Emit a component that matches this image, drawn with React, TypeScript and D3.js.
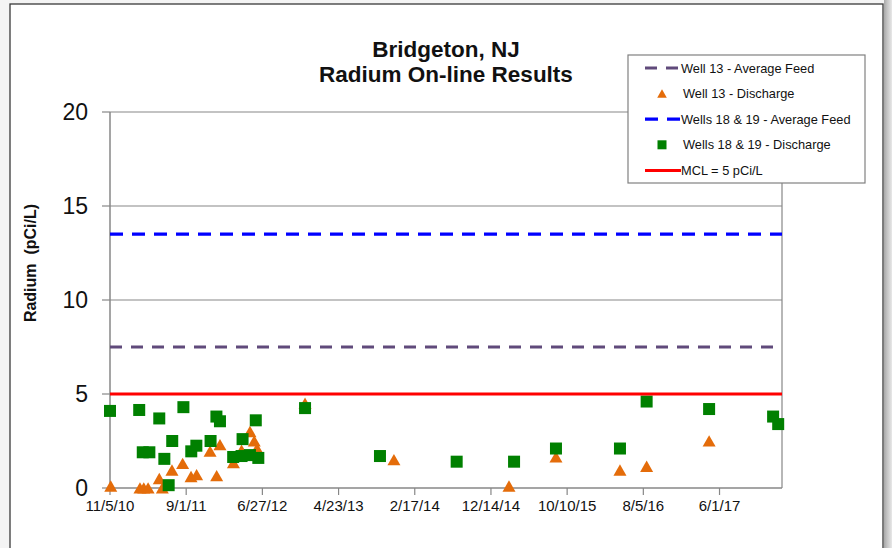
import React from "react";
import * as d3 from "d3";

const xTickLabels = ["11/5/10", "9/1/11", "6/27/12", "4/23/13", "2/17/14", "12/14/14", "10/10/15", "8/5/16", "6/1/17"];
const xDomain = ["11/5/10", "2/2/18"];
const yTicks = [0, 5, 10, 15, 20];

const well13Dates = ["11/8/10", "3/3/11", "3/18/11", "4/4/11", "5/18/11", "5/30/11", "7/7/11", "8/18/11", "9/20/11", "10/12/11", "12/4/11", "12/30/11", "1/12/12", "3/5/12", "4/6/12", "5/9/12", "5/26/12", "6/6/12", "12/12/12", "11/27/13", "2/23/15", "8/27/15", "5/5/16", "8/18/16", "4/21/17"];
const well13Values = [0.1, 0, 0, 0, 0.5, 0, 0.95, 1.3, 0.6, 0.7, 1.95, 0.65, 2.3, 1.35, 2.0, 3.0, 2.5, 2.1, 4.5, 1.5, 0.1, 1.65, 0.95, 1.15, 2.5];

const wells1819Dates = ["11/5/10", "2/28/11", "3/14/11", "4/9/11", "5/18/11", "6/7/11", "6/24/11", "7/8/11", "8/21/11", "9/21/11", "10/11/11", "12/6/11", "12/29/11", "1/12/12", "3/4/12", "4/6/12", "4/10/12", "5/9/12", "6/1/12", "6/11/12", "12/12/12", "10/3/13", "8/1/14", "3/15/15", "8/27/15", "5/5/16", "8/18/16", "4/21/17", "12/29/17", "1/18/18"];
const wells1819Values = [4.1, 4.15, 1.9, 1.9, 3.7, 1.55, 0.15, 2.5, 4.3, 1.95, 2.25, 2.5, 3.8, 3.55, 1.65, 1.7, 2.6, 1.75, 3.6, 1.6, 4.25, 1.7, 1.4, 1.4, 2.1, 2.1, 4.6, 4.2, 3.8, 3.4];

const well13AvgFeed = 7.5;
const wells1819AvgFeed = 13.5;
const mcl = 5;

const legendLabels = ["Well 13 - Average Feed", "Well 13 - Discharge", "Wells 18 & 19 - Average Feed", "Wells 18 & 19 - Discharge", "MCL = 5 pCi/L"];

const PURPLE = "#604A7B";
const ORANGE = "#E46C0A";
const BLUE = "#0000FF";
const GREEN = "#008000";
const RED = "#FF0000";
const GRID = "#878787";
const FONT = "'Liberation Sans', Arial, sans-serif";

export default function App() {
  const W = 892, H = 548;
  const left = 110, right = 782, top = 112, bottom = 488;
  const parse = d3.utcParse("%m/%d/%y");
  const x = d3.scaleUtc().domain(xDomain.map((d) => parse(d) as Date)).range([left, right]);
  const y = d3.scaleLinear().domain([0, 20]).range([bottom, top]);

  const tri = (cx: number, cy: number, s = 6.5) => `M${cx},${cy - s * 0.9}L${cx + s},${cy + s * 0.85}L${cx - s},${cy + s * 0.85}Z`;
  const sq = 12;

  const legX = 628, legY = 55, legW = 237, legH = 128;
  const legItemY = (i: number) => 68 + i * 25.6;

  return (
    <svg width={W} height={H} style={{ position: "absolute", left: 0, top: 0 }} fontFamily={FONT}>
      <defs>
        <linearGradient id="shadow" x1="0" x2="1" y1="0" y2="0">
          <stop offset="0" stopColor="#a8a8a8" />
          <stop offset="0.4" stopColor="#c4c4c4" />
          <stop offset="1" stopColor="#e8e8e8" />
        </linearGradient>
      </defs>
      <rect x={0} y={0} width={W} height={H} fill="#f4f4f4" />
      <rect x={884} y={0} width={8} height={H} fill="url(#shadow)" />
      <rect x={10} y={4} width={873} height={H} fill="#ffffff" stroke="#3a3a3a" strokeWidth={1.3} />

      {/* title */}
      <text x={446} y={57} textAnchor="middle" fontSize={22.5} fontWeight="bold" fill="#111">Bridgeton, NJ</text>
      <text x={446} y={82} textAnchor="middle" fontSize={22.5} fontWeight="bold" fill="#111">Radium On-line Results</text>

      {/* gridlines */}
      {yTicks.filter((t) => t > 0).map((t) => (
        <line key={"g" + t} x1={left} x2={right} y1={y(t)} y2={y(t)} stroke={GRID} strokeWidth={1} />
      ))}
      <line x1={right} x2={right} y1={top} y2={bottom} stroke={GRID} strokeWidth={1.2} />
      {/* axes */}
      <line x1={left} x2={left} y1={top} y2={bottom} stroke={GRID} strokeWidth={1.5} />
      <line x1={left} x2={right} y1={bottom} y2={bottom} stroke={GRID} strokeWidth={1.5} />
      {yTicks.map((t) => (
        <g key={"yt" + t}>
          <line x1={left - 8} x2={left} y1={y(t)} y2={y(t)} stroke={GRID} strokeWidth={1.2} />
          <text x={88} y={y(t) + 8} textAnchor="end" fontSize={23} fill="#111">{t}</text>
        </g>
      ))}
      {xTickLabels.map((l) => {
        const px = x(parse(l) as Date);
        return (
          <g key={"xt" + l}>
            <line x1={px} x2={px} y1={bottom} y2={bottom + 7} stroke={GRID} strokeWidth={1.2} />
            <text x={px} y={511} textAnchor="middle" fontSize={15} fill="#111">{l}</text>
          </g>
        );
      })}
      <text transform={`translate(36,263) rotate(-90)`} textAnchor="middle" fontSize={16} fontWeight="bold" fill="#111" xmlSpace="preserve">Radium  (pCi/L)</text>

      {/* series */}
      <line x1={left} x2={right} y1={y(well13AvgFeed)} y2={y(well13AvgFeed)} stroke={PURPLE} strokeWidth={3} strokeDasharray="12 9" />
      {well13Dates.map((d, i) => (
        <path key={"o" + i} d={tri(x(parse(d) as Date), y(well13Values[i]))} fill={ORANGE} />
      ))}
      <line x1={left} x2={right} y1={y(wells1819AvgFeed)} y2={y(wells1819AvgFeed)} stroke={BLUE} strokeWidth={3.2} strokeDasharray="13 9" />
      {wells1819Dates.map((d, i) => (
        <rect key={"s" + i} x={x(parse(d) as Date) - sq / 2} y={y(wells1819Values[i]) - sq / 2} width={sq} height={sq} fill={GREEN} />
      ))}
      <line x1={left} x2={right} y1={y(mcl)} y2={y(mcl)} stroke={RED} strokeWidth={3} />

      {/* legend */}
      <rect x={legX} y={legY} width={legW} height={legH} fill="#ffffff" stroke="#808080" strokeWidth={1.2} />
      <line x1={645} x2={679} y1={legItemY(0)} y2={legItemY(0)} stroke={PURPLE} strokeWidth={3} strokeDasharray="12 9" />
      <path d={tri(662, legItemY(1), 4.8)} fill={ORANGE} />
      <line x1={645} x2={681} y1={legItemY(2)} y2={legItemY(2)} stroke={BLUE} strokeWidth={3.2} strokeDasharray="13 9" />
      <rect x={662 - 4.5} y={legItemY(3) - 4.5} width={9} height={9} fill={GREEN} />
      <line x1={645} x2={681} y1={legItemY(4)} y2={legItemY(4)} stroke={RED} strokeWidth={3} />
      {legendLabels.map((l, i) => (
        <text key={"l" + i} x={i === 0 || i === 2 || i === 4 ? 681 : 683} y={legItemY(i) + 4.5} fontSize={12.8} fill="#111">{l}</text>
      ))}
    </svg>
  );
}
